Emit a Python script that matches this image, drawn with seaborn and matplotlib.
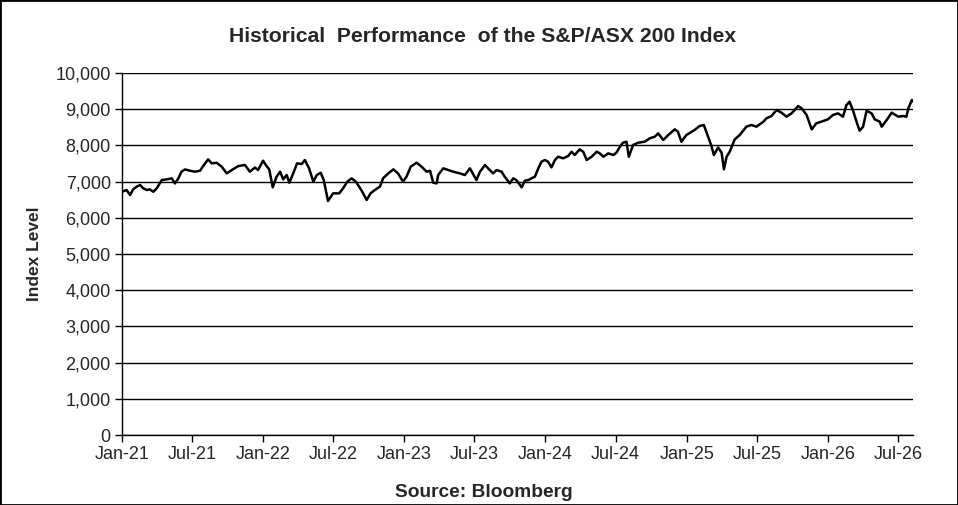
import pandas as pd
import seaborn as sns
import matplotlib
matplotlib.use("Agg")
import matplotlib.pyplot as plt
import matplotlib.dates as mdates
from matplotlib.patches import Rectangle
from matplotlib.ticker import FuncFormatter

# index levels, dated as days after 1 Jan 2021
start = pd.Timestamp("2021-01-01")
day_offsets = [
    0, 12, 21, 29, 38, 47, 55, 64, 72, 81, 90, 103, 116, 129, 137, 146, 154, 163,
    176, 189, 202, 210, 223, 232, 245, 258, 271, 284, 301, 318, 331,
    344, 352, 365, 374, 381, 390, 400, 409, 417, 426, 433, 443, 453, 465, 473,
    484, 495, 504, 514, 522, 533, 546, 562, 572, 583, 594, 605, 620, 633, 643,
    654, 667,
    676, 689, 702, 714, 727, 736, 747, 762, 775, 788, 797, 805, 814, 818, 831,
    844, 857, 874, 887, 900, 917, 926, 939, 947, 960, 969, 982, 990, 1003,
    1012, 1020, 1034, 1042, 1051, 1059, 1068, 1077, 1085, 1094, 1102, 1111,
    1120, 1128, 1141, 1154, 1163, 1171, 1184, 1193, 1202, 1215, 1228, 1236,
    1245, 1258, 1271, 1279, 1288, 1296, 1305, 1311, 1322, 1335,
    1352, 1365, 1378, 1387, 1400, 1413, 1430, 1438, 1447, 1460, 1481, 1494,
    1505, 1516, 1524, 1531, 1542, 1551, 1557, 1564, 1572, 1585, 1598, 1615,
    1628, 1641, 1659, 1667, 1680, 1693,
    1706, 1719, 1732, 1749, 1758, 1771, 1784, 1796, 1809, 1826, 1839, 1852,
    1865, 1874, 1882, 1891, 1900, 1908, 1917, 1926, 1939, 1947, 1960, 1965,
    1978, 1991, 2008, 2021, 2029, 2034, 2043, 2047,
]
levels = [
    6720, 6768, 6630, 6786, 6860, 6906, 6815, 6768, 6786, 6720, 6815, 7044, 7063,
    7090, 6950, 7090, 7274, 7338,
    7300, 7274, 7300, 7430, 7615, 7505, 7520, 7413, 7228, 7320, 7430, 7460, 7274,
    7390, 7320, 7578, 7430, 7338, 6842, 7136, 7274, 7063, 7182, 6970, 7228, 7505,
    7486, 7597,
    7367, 7000, 7182, 7245, 7044, 6464, 6676, 6676, 6815, 7000, 7090, 7000, 6750,
    6492, 6676,
    6768, 6860,
    7100, 7228, 7338, 7228, 7000, 7136, 7413, 7523, 7413, 7274, 7300, 6970, 6952,
    7182, 7367,
    7320, 7274, 7228, 7182, 7367, 7044, 7274, 7459, 7367, 7228, 7320, 7274, 7136,
    6952,
    7090, 7044, 6842, 7025, 7044, 7090, 7136, 7367, 7550, 7597, 7550, 7394,
    7597, 7688, 7643, 7706, 7826, 7735, 7891, 7826, 7597, 7688, 7826, 7780,
    7688, 7780, 7735, 7800, 7965, 8075, 8102, 7688, 8011, 8075,
    8102, 8195, 8240, 8333, 8149, 8287, 8444, 8380, 8102, 8287, 8425, 8536,
    8564, 8240, 8011, 7735, 7943, 7800, 7340, 7688, 7826, 8168, 8287, 8518,
    8564, 8518, 8655, 8748, 8812, 8978,
    8904, 8794, 8886, 9088, 9024, 8840, 8444, 8610, 8656, 8720, 8840, 8886,
    8794, 9116, 9208, 8960, 8656, 8407, 8518, 8960, 8886, 8720, 8656, 8518,
    8702, 8904, 8794, 8812, 8794, 9024, 9254, 9208,
]

df = pd.DataFrame({"Date": start + pd.to_timedelta(day_offsets, unit="D"),
                   "Level": levels})

sns.set_style("white")
plt.rcParams["font.family"] = ["Liberation Sans", "DejaVu Sans"]

fig = plt.figure(figsize=(9.58, 5.05), dpi=100)
ax = fig.add_axes([0.1273, 0.1386, 0.8261, 0.7168])

sns.lineplot(data=df, x="Date", y="Level", ax=ax, color="black", linewidth=1.8)

ax.set_ylim(0, 10000)
ax.set_yticks(range(0, 10001, 1000))
ax.yaxis.set_major_formatter(FuncFormatter(lambda v, p: f"{int(v):,}"))
ax.set_xlim(df["Date"].iloc[0], df["Date"].iloc[-1])
ax.xaxis.set_major_locator(mdates.MonthLocator(bymonth=[1, 7]))
ax.xaxis.set_major_formatter(mdates.DateFormatter("%b-%y"))

ax.grid(axis="y", color="black", linewidth=1)
ax.grid(axis="x", visible=False)
for s in ["top", "right"]:
    ax.spines[s].set_visible(False)
for s in ["left", "bottom"]:
    ax.spines[s].set_color("black")
    ax.spines[s].set_linewidth(1)
ax.tick_params(axis="both", direction="out", length=5, width=1, color="black",
               labelsize=13, pad=3, bottom=True, left=True)

ax.set_xlabel("")
ax.set_ylabel("Index Level", fontsize=12.5, fontweight="bold", labelpad=10)
fig.text(0.504, 0.928, "Historical  Performance  of the S&P/ASX 200 Index",
         ha="center", va="center", fontsize=15.2, fontweight="bold")
fig.text(0.505, 0.025, "Source: Bloomberg", ha="center", va="center",
         fontsize=13.8, fontweight="bold")

fig.patches.append(Rectangle((0, 0), 1, 1, transform=fig.transFigure, fill=False,
                             edgecolor="black", linewidth=2))

fig.savefig("out.png", dpi=100)
